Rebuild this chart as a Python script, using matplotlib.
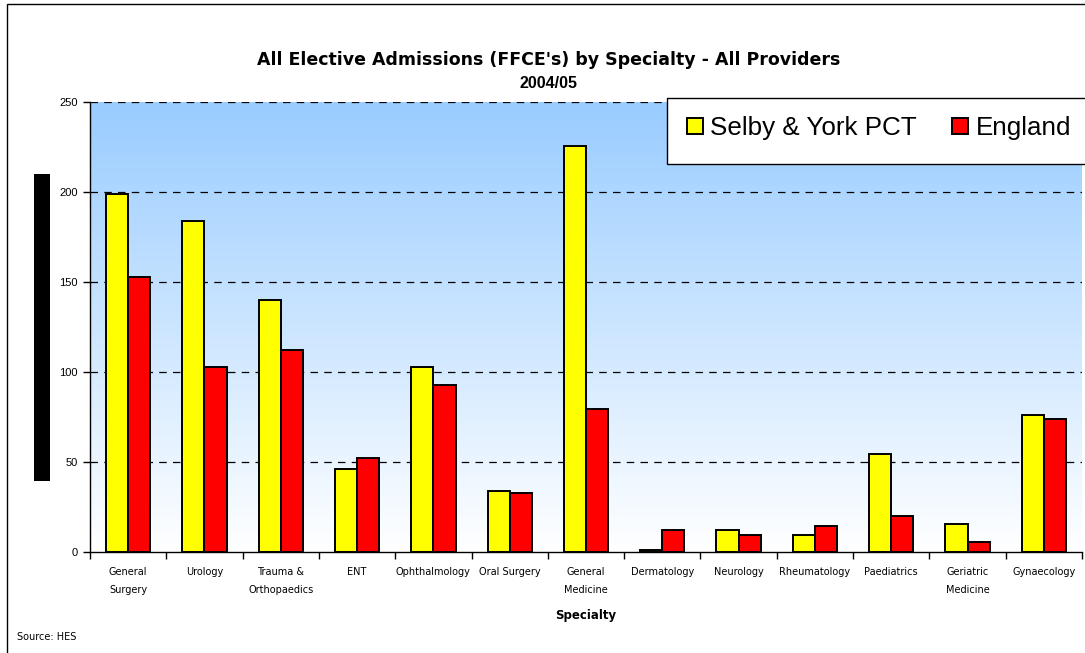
import numpy as np
import matplotlib
matplotlib.use("Agg")
import matplotlib.pyplot as plt
from matplotlib.patches import Rectangle
from matplotlib.colors import LinearSegmentedColormap

categories = ["General\nSurgery", "Urology", "Trauma &\nOrthopaedics", "ENT", "Ophthalmology",
              "Oral Surgery", "General\nMedicine", "Dermatology", "Neurology", "Rheumatology",
              "Paediatrics", "Geriatric\nMedicine", "Gynaecology"]
selby_york = [199, 184, 140, 46, 103, 34, 225.5, 1.3, 12.3, 9.2, 54.4, 15.6, 76.3]
england = [153, 103, 112, 52, 93, 33, 79.6, 12.3, 9.2, 14.7, 20, 5.7, 73.9]
yticks = [0, 50, 100, 150, 200, 250]
series_names = ["Selby & York PCT", "England"]

plt.rcParams['font.family'] = ['Liberation Sans', 'DejaVu Sans']
WIDE = ['DejaVu Sans']

fig = plt.figure(figsize=(10.85, 6.53), dpi=100)
W, H = 1085, 653
ax = fig.add_axes([90 / W, 1 - 552 / H, (1082 - 90) / W, (552 - 102) / H])

# gradient background
grad = np.linspace(0, 1, 256).reshape(-1, 1)
cmap = LinearSegmentedColormap.from_list("bg", ["#ffffff", "#99ccff"])
ax.imshow(grad, aspect='auto', cmap=cmap, extent=[0, 1, 0, 1], origin='lower',
          transform=ax.transAxes, zorder=0)

x = np.arange(len(categories))
bw = 0.29
ax.bar(x - bw / 2, selby_york, bw, color='#ffff00', edgecolor='black', linewidth=1.4,
       label=series_names[0], zorder=3)
ax.bar(x + bw / 2, england, bw, color='#ff0000', edgecolor='black', linewidth=1.4,
       label=series_names[1], zorder=3)

ax.set_xlim(-0.5, len(categories) - 0.5)
ax.set_ylim(0, 250)
ax.set_yticks(yticks)
ax.set_yticklabels([str(v) for v in yticks], fontsize=8)
for v in yticks[1:]:
    ax.axhline(v, color='black', linestyle=(0, (6, 5)), linewidth=0.9, zorder=2)

ax.set_xticks(x)
ax.set_xticklabels(categories, fontsize=7, linespacing=2.0, family=WIDE)
ax.tick_params(axis='x', which='major', length=0, pad=11)
ax.set_xticks(np.arange(-0.5, len(categories), 1.0), minor=True)
ax.tick_params(axis='x', which='minor', length=5, width=1, direction='out')
ax.tick_params(axis='y', length=5, width=1, direction='out', pad=4)

for s in ['top', 'right']:
    ax.spines[s].set_visible(False)
ax.spines['left'].set_linewidth(1)
ax.spines['bottom'].set_linewidth(1)

ax.set_xlabel("Specialty", fontsize=8.5, fontweight='bold', labelpad=10, family=WIDE)

fig.text(549 / W, 1 - 60 / H, "All Elective Admissions (FFCE's) by Specialty - All Providers",
         ha='center', va='center', fontsize=12.5, fontweight='bold', family=WIDE)
fig.text(549 / W, 1 - 83 / H, "2004/05", ha='center', va='center', fontsize=11.5, fontweight='bold')
fig.text(17 / W, 1 - 637 / H, "Source: HES", ha='left', va='center', fontsize=7, family=WIDE)

# redacted y-axis label block
fig.patches.append(Rectangle((34 / W, 1 - 481 / H), 16 / W, (481 - 174) / H,
                             transform=fig.transFigure, facecolor='black', edgecolor='none'))

# outer frame (cut off at right and bottom)
fig.patches.append(Rectangle((7 / W, -20 / H), (W + 20) / W, (H + 20 - 4) / H,
                             transform=fig.transFigure, facecolor='none', edgecolor='black',
                             linewidth=1))

# legend box (extends past right edge)
fig.patches.append(Rectangle((667 / W, 1 - 164 / H), 440 / W, 66 / H,
                             transform=fig.transFigure, facecolor='white', edgecolor='black',
                             linewidth=1, zorder=5))
leg = fig.legend(loc='center left', bbox_to_anchor=(687 / W, 1 - 128 / H), ncol=2, fontsize=18.7,
                 frameon=False, handlelength=0.6, handleheight=0.6, handletextpad=0.3,
                 columnspacing=1.35, borderpad=0, borderaxespad=0)
leg.set_zorder(6)

fig.savefig("out.png", dpi=100)
